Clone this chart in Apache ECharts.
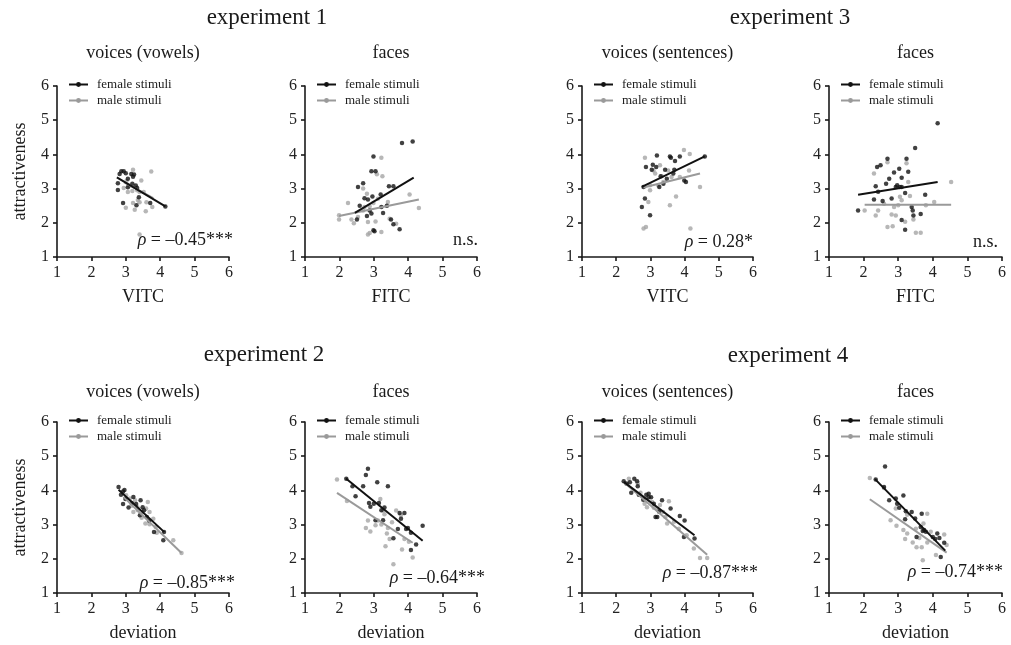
<!DOCTYPE html>
<html>
<head>
<meta charset="utf-8">
<script src="https://cdn.jsdelivr.net/npm/echarts@6/dist/echarts.min.js"></script>
<style>
  html, body { margin: 0; padding: 0; background: #fff; }
  #chart { width: 1011px; height: 645px; }
</style>
</head>
<body>
<div id="chart"></div>
<script>
// ---- data: [x, y] pairs per panel ----
// experiment 1, voices (vowels)
const e1vFemale = [[2.77,2.96],[2.77,3.16],[2.82,3.43],[2.87,3.51],[2.94,3.51],[3.0,3.45],[3.16,3.43],[3.24,3.41],[3.06,3.29],[3.19,3.14],[3.29,3.09],[3.33,3.02],[3.06,3.04],[2.92,2.58],[3.31,2.51],[3.38,2.75],[3.71,2.58],[4.15,2.48],[3.21,3.35]]
const e1vMale = [[3.21,3.55],[3.74,3.5],[3.45,3.24],[3.02,3.22],[3.09,3.09],[3.19,2.93],[3.33,2.95],[3.4,2.9],[3.52,2.9],[3.35,2.67],[3.21,2.58],[3.0,2.44],[3.26,2.38],[3.58,2.34],[3.77,2.46],[3.4,2.6],[3.06,2.9],[2.94,3.02],[3.4,1.66],[3.6,2.6]]
const e1vFemaleFit = [[2.74,3.33],[4.15,2.48]]
const e1vMaleFit = [[2.95,3.18],[3.8,2.72]]
// experiment 1, faces
const e1fFemale = [[3.82,4.33],[4.13,4.38],[2.99,3.94],[2.93,3.51],[3.05,3.51],[2.69,3.16],[2.54,3.05],[3.57,3.07],[3.44,3.07],[2.73,2.72],[2.96,2.77],[3.2,2.83],[2.59,2.5],[3.38,2.5],[3.22,2.46],[2.8,2.2],[2.93,2.27],[3.27,2.29],[2.51,2.1],[3.5,2.1],[3.57,1.96],[3.75,1.81],[3.02,1.75],[2.99,1.78],[2.88,2.36],[2.83,2.68]]
const e1fMale = [[3.22,3.9],[3.09,3.42],[3.25,3.36],[2.69,3.0],[2.8,2.85],[2.25,2.58],[1.99,2.22],[1.99,2.1],[2.35,2.1],[2.42,1.99],[2.83,2.02],[3.05,2.04],[3.22,1.73],[2.83,1.66],[2.88,1.7],[3.46,2.12],[3.65,1.97],[4.04,2.83],[4.31,2.43],[2.88,2.48],[3.12,2.7],[2.73,2.46],[3.41,2.61],[2.99,2.58],[2.69,2.36],[2.54,2.17]]
const e1fFemaleFit = [[2.45,2.29],[4.16,3.32]]
const e1fMaleFit = [[1.99,2.2],[4.31,2.68]]
// experiment 3, voices (sentences)
const e3vFemale = [[2.75,2.46],[2.8,3.05],[2.84,2.71],[2.99,2.22],[2.87,3.63],[3.04,3.55],[3.07,3.7],[3.17,3.63],[3.19,3.97],[3.3,3.36],[3.26,3.05],[3.43,3.55],[3.48,3.29],[3.57,3.94],[3.6,3.9],[3.7,3.55],[3.72,3.81],[3.67,3.44],[3.86,3.94],[3.99,3.24],[4.04,3.19],[4.59,3.94],[3.38,3.14]]
const e3vMale = [[2.8,1.83],[2.87,1.88],[2.84,3.9],[2.94,2.61],[2.99,2.95],[3.09,3.53],[3.28,3.68],[3.38,3.19],[3.23,3.09],[3.57,2.51],[3.75,2.77],[3.86,3.34],[3.98,4.13],[4.15,4.01],[4.13,3.53],[4.17,1.83],[4.45,3.05],[3.14,3.44],[3.62,3.34],[3.52,3.53],[3.33,3.36],[2.99,3.1]]
const e3vFemaleFit = [[2.75,3.05],[4.59,3.94]]
const e3vMaleFit = [[2.8,3.03],[4.45,3.44]]
// experiment 3, faces
const e3fFemale = [[1.84,2.36],[2.3,2.68],[2.35,3.07],[2.39,3.63],[2.49,3.68],[2.42,2.91],[2.55,2.64],[2.65,3.14],[2.69,3.87],[2.74,3.29],[2.81,2.71],[2.88,3.47],[2.93,3.05],[2.97,3.1],[3.03,3.58],[3.1,3.32],[3.1,3.05],[3.1,2.08],[3.2,1.8],[3.2,2.87],[3.24,3.87],[3.29,3.49],[3.39,2.46],[3.42,2.36],[3.44,2.21],[3.49,4.19],[3.65,2.26],[3.78,2.82],[4.14,4.91],[3.05,3.05]]
const e3fMale = [[2.3,3.44],[2.35,2.21],[2.42,2.36],[2.03,2.36],[2.69,3.77],[2.69,1.88],[2.84,1.9],[2.81,2.24],[2.93,2.21],[3.05,2.76],[3.2,2.03],[3.24,3.74],[3.29,3.19],[3.34,2.78],[3.44,2.1],[3.51,1.71],[3.65,1.71],[3.8,2.51],[4.04,2.61],[4.53,3.19],[3.0,2.51],[2.59,2.56],[2.88,2.46],[3.1,2.66]]
const e3fFemaleFit = [[1.84,2.82],[4.14,3.19]]
const e3fMaleFit = [[2.03,2.53],[4.53,2.53]]
// experiment 2, voices (vowels)
const e2vFemale = [[2.79,4.1],[2.86,3.87],[2.92,3.97],[2.96,4.01],[2.92,3.6],[2.99,3.75],[3.08,3.5],[3.22,3.81],[3.3,3.6],[3.41,3.27],[3.43,3.71],[3.49,3.51],[3.53,3.42],[3.61,3.22],[3.68,3.11],[3.82,2.78],[4.11,2.78],[4.09,2.54],[3.17,3.63]]
const e2vMale = [[3.01,3.86],[3.12,3.76],[3.27,3.71],[3.17,3.55],[3.35,3.42],[3.49,3.37],[3.59,3.47],[3.64,3.66],[3.69,3.37],[3.57,3.03],[3.69,3.01],[3.87,2.93],[3.9,2.76],[4.38,2.54],[4.62,2.17],[3.34,3.51],[3.46,3.2],[3.22,3.37],[3.8,3.17]]
const e2vFemaleFit = [[2.79,4.02],[4.12,2.78]]
const e2vMaleFit = [[2.93,3.81],[4.62,2.17]]
// experiment 2, faces
const e2fFemale = [[2.2,4.34],[2.38,4.12],[2.47,3.83],[2.69,4.12],[2.77,4.45],[2.83,4.63],[3.1,4.24],[3.41,4.12],[2.86,3.63],[3.0,3.61],[3.15,3.63],[3.22,3.42],[3.27,3.13],[3.31,3.5],[3.05,3.13],[3.57,2.6],[3.7,2.87],[3.75,3.34],[3.79,3.17],[3.89,3.34],[3.94,2.87],[3.99,2.9],[4.08,2.26],[4.08,2.76],[4.23,2.42],[4.42,2.97],[2.9,3.52]]
const e2fMale = [[1.93,4.32],[2.22,3.69],[2.77,2.9],[2.83,3.12],[2.9,2.8],[3.05,2.98],[3.12,3.12],[3.19,3.75],[3.22,3.0],[3.31,3.3],[3.41,2.9],[3.34,2.37],[3.46,2.58],[3.53,3.07],[3.57,1.84],[3.65,3.41],[3.79,3.27],[3.82,2.27],[3.89,2.58],[4.13,2.04],[3.38,2.74],[3.27,3.41],[4.02,2.5]]
const e2fFemaleFit = [[2.19,4.35],[4.42,2.53]]
const e2fMaleFit = [[1.93,3.93],[4.13,2.47]]
// experiment 4, voices (sentences)
const e4vFemale = [[2.22,4.27],[2.3,4.2],[2.4,4.24],[2.44,3.93],[2.53,4.34],[2.61,4.27],[2.63,4.12],[2.66,3.87],[2.79,3.73],[2.88,3.87],[2.95,3.9],[2.95,3.8],[3.02,3.8],[3.15,3.22],[3.2,3.22],[3.34,3.71],[3.25,3.38],[3.59,3.47],[3.86,3.25],[4.0,3.12],[3.98,2.64],[4.29,2.59],[3.1,3.61]]
const e4vMale = [[2.37,4.34],[2.63,4.2],[2.83,3.61],[2.9,3.51],[3.05,3.66],[3.1,3.49],[3.2,3.45],[3.28,3.57],[3.37,3.37],[3.44,3.22],[3.49,3.03],[3.54,3.68],[3.69,3.08],[3.83,2.88],[4.06,2.69],[4.27,2.3],[4.45,2.02],[4.66,2.02],[2.71,3.93]]
const e4vFemaleFit = [[2.22,4.25],[4.29,2.69]]
const e4vMaleFit = [[2.27,4.2],[4.66,2.12]]
// experiment 4, faces
const e4fFemale = [[2.35,4.32],[2.59,4.1],[2.62,4.7],[2.74,3.71],[2.93,3.76],[2.97,3.61],[3.15,3.85],[3.03,3.49],[3.22,3.39],[3.2,3.16],[3.39,3.37],[3.49,3.18],[3.53,2.64],[3.65,2.93],[3.68,3.32],[3.71,2.81],[3.75,2.84],[3.8,2.79],[4.0,2.64],[4.07,2.58],[4.13,2.74],[4.19,2.61],[4.23,2.05],[4.33,2.47]]
const e4fMale = [[2.18,4.36],[2.59,4.07],[2.78,3.13],[2.95,2.97],[2.93,3.47],[3.15,2.84],[3.2,2.58],[3.26,2.74],[3.42,2.48],[3.53,2.34],[3.68,2.34],[3.71,1.96],[3.73,3.03],[3.84,3.32],[3.84,2.48],[4.09,2.11],[4.33,2.71],[4.4,2.4],[3.26,3.29],[3.51,2.88],[3.94,2.79],[3.61,2.61]]
const e4fFemaleFit = [[2.33,4.33],[4.36,2.24]]
const e4fMaleFit = [[2.18,3.74],[4.4,2.18]]

const stats = ['{r|ρ} = –0.45***', 'n.s.', '{r|ρ} = 0.28*', 'n.s.', '{r|ρ} = –0.85***', '{r|ρ} = –0.64***', '{r|ρ} = –0.87***', '{r|ρ} = –0.74***']
const experiments = ['experiment 1', 'experiment 3', 'experiment 2', 'experiment 4']
const subtitles = ['voices (vowels)', 'faces', 'voices (sentences)', 'faces', 'voices (vowels)', 'faces', 'voices (sentences)', 'faces']
const xNames = ['VITC', 'FITC', 'VITC', 'FITC', 'deviation', 'deviation', 'deviation', 'deviation']

// ---- layout ----
const FONT = 'Liberation Serif'
const grids = [
  [57, 86, 172, 171], [305, 86, 172, 171], [582, 86, 171, 171], [829, 86, 173, 171],
  [57, 422, 172, 171], [305, 422, 172, 171], [582, 422, 171, 171], [829, 422, 173, 171]
]
const panelData = [
  [e1vFemale, e1vMale, e1vFemaleFit, e1vMaleFit],
  [e1fFemale, e1fMale, e1fFemaleFit, e1fMaleFit],
  [e3vFemale, e3vMale, e3vFemaleFit, e3vMaleFit],
  [e3fFemale, e3fMale, e3fFemaleFit, e3fMaleFit],
  [e2vFemale, e2vMale, e2vFemaleFit, e2vMaleFit],
  [e2fFemale, e2fMale, e2fFemaleFit, e2fMaleFit],
  [e4vFemale, e4vMale, e4vFemaleFit, e4vMaleFit],
  [e4fFemale, e4fMale, e4fFemaleFit, e4fMaleFit]
]
// stat label: right edge and middle y
const statPos = [[233, 240], [478, 240], [753, 242], [998, 242], [235, 583], [485, 578], [758, 573], [1003, 572]]
const expPos = [[267, 18], [790, 18], [264, 355], [788, 356]]

const BLACK = '#111'
const GRAY = '#a5a5a5'
const GRAY_LINE = '#9a9a9a'

const chart = echarts.init(document.getElementById('chart'))

const axisCommon = {
  type: 'value', min: 1, max: 6, interval: 1,
  nameLocation: 'middle',
  nameTextStyle: { fontFamily: FONT, fontSize: 18, color: '#1a1a1a' },
  axisLine: { show: true, onZero: false, lineStyle: { color: '#1a1a1a', width: 1.6 } },
  axisTick: { show: true, length: 4, lineStyle: { color: '#1a1a1a', width: 1.6 } },
  axisLabel: { fontFamily: FONT, fontSize: 16, color: '#222', margin: 8 },
  splitLine: { show: false }
}

const series = []
panelData.forEach((d, i) => {
  series.push({ type: 'scatter', name: 'male pts ' + i, xAxisIndex: i, yAxisIndex: i, data: d[1], symbolSize: 4.5, itemStyle: { color: GRAY }, z: 2 })
  series.push({ type: 'scatter', name: 'female pts ' + i, xAxisIndex: i, yAxisIndex: i, data: d[0], symbolSize: 4.5, itemStyle: { color: BLACK }, z: 3 })
  series.push({ type: 'line', name: 'male stimuli', xAxisIndex: i, yAxisIndex: i, data: d[3], symbol: 'circle', symbolSize: 5, showSymbol: false, lineStyle: { color: GRAY_LINE, width: 2 }, itemStyle: { color: GRAY_LINE }, z: 4 })
  series.push({ type: 'line', name: 'female stimuli', xAxisIndex: i, yAxisIndex: i, data: d[2], symbol: 'circle', symbolSize: 5, showSymbol: false, lineStyle: { color: BLACK, width: 2 }, itemStyle: { color: BLACK }, z: 5 })
})

const texts = []
experiments.forEach((t, i) => {
  texts.push({ type: 'text', x: expPos[i][0], y: expPos[i][1], style: { text: t, fontFamily: FONT, fontSize: 23, fill: '#1a1a1a', align: 'center', verticalAlign: 'middle' } })
})
subtitles.forEach((t, i) => {
  const g = grids[i]
  texts.push({ type: 'text', x: g[0] + g[2] / 2, y: i < 4 ? 53 : 392, style: { text: t, fontFamily: FONT, fontSize: 18, fill: '#1a1a1a', align: 'center', verticalAlign: 'middle' } })
})
stats.forEach((t, i) => {
  texts.push({
    type: 'text', x: statPos[i][0], y: statPos[i][1], z: 10,
    style: {
      text: t, fontFamily: FONT, fontSize: 18, fill: '#1a1a1a', align: 'right', verticalAlign: 'middle',
      rich: { r: { fontFamily: FONT, fontSize: 18, fontStyle: 'italic', fill: '#1a1a1a' } }
    }
  })
})

const option = {
  animation: false,
  backgroundColor: '#fff',
  grid: grids.map(g => ({ left: g[0], top: g[1], width: g[2], height: g[3], containLabel: false })),
  xAxis: grids.map((g, i) => Object.assign({}, axisCommon, { gridIndex: i, name: xNames[i], nameGap: 31 })),
  yAxis: grids.map((g, i) => Object.assign({}, axisCommon, { gridIndex: i, name: (i === 0 || i === 4) ? 'attractiveness' : '', nameGap: 28 })),
  legend: grids.map(g => ({
    left: g[0] + 11, top: g[1] - 8, orient: 'vertical',
    itemWidth: 19, itemHeight: 6, itemGap: 3, padding: 0,
    selectedMode: false,
    data: ['female stimuli', 'male stimuli'],
    textStyle: { fontFamily: FONT, fontSize: 13, color: '#1a1a1a', padding: [0, 0, 0, 4] }
  })),
  series: series,
  graphic: texts
}
chart.setOption(option)
</script>
</body>
</html>
